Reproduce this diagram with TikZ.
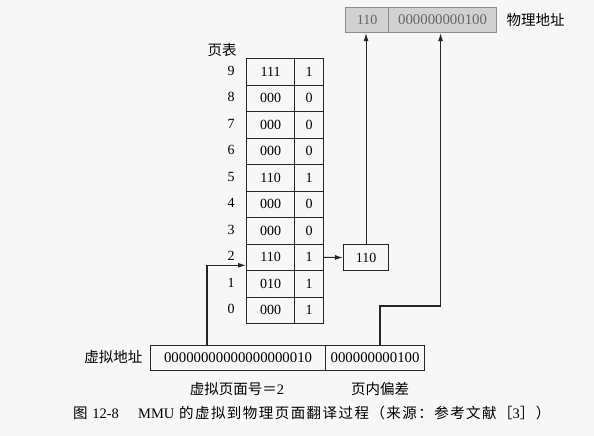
\documentclass[tikz,border=0pt]{standalone}
\usepackage{fontspec}
\setmainfont{Liberation Serif}
\newfontfamily\cjk{Noto Sans CJK SC}
\newfontfamily\cjkcap[LetterSpace=10]{Noto Sans CJK SC}
\usetikzlibrary{arrows.meta}
\begin{document}
\begin{tikzpicture}[x=1pt,y=-1pt,
  cell/.style={draw=black!85, line width=1.1pt, minimum height=26.5pt, inner sep=0pt, anchor=north west, font=\fontsize{14}{14}\selectfont},
  long/.style={font=\fontsize{14.8}{14.8}\selectfont},
  num/.style={font=\fontsize{14}{14}\selectfont},
  lbl/.style={font=\cjk\fontsize{14.5}{14.5}\selectfont},
  arr/.style={-{Latex[length=8pt,width=5pt]}, line width=1.1pt, draw=black!85}]
\fill[black!3] (0,0) rectangle (594,436);
\useasboundingbox (0,0) rectangle (594,436);
% physical address
\node[cell, fill=black!18, draw=black!45, text=black!60, minimum width=43pt, minimum height=25pt] (pa1) at (345,7) {110};
\node[cell, long, fill=black!18, draw=black!45, text=black!60, minimum width=108pt, minimum height=25pt] (pa2) at (388,7) {000000000100};
\node[lbl, anchor=west] (palbl) at (503,20) {物理地址};
% page table
\node[lbl] (pt) at (222,50) {页表};
\foreach \i/\f/\v in {9/111/1,8/000/0,7/000/0,6/000/0,5/110/1,4/000/0,3/000/0,2/110/1,1/010/1,0/000/1} {
  \pgfmathsetmacro\yy{58+(9-\i)*26.5}
  \node[cell, minimum width=48pt] (pf\i) at (246,\yy) {\f};
  \node[cell, minimum width=29pt] (vb\i) at (294,\yy) {\v};
  \node[num] (ix\i) at (231,\yy+12.5) {\i};
}
\node[cell, minimum width=45pt, minimum height=26pt] (pb) at (343,244) {110};
% virtual address
\node[cell, long, minimum width=175pt, minimum height=25pt] (va1) at (150,345) {00000000000000000010};
\node[cell, long, minimum width=99pt, minimum height=25pt] (va2) at (325,345) {000000000100};
\node[lbl, anchor=east] (valbl) at (146,357) {虚拟地址};
\node[lbl] (vpn) at (237,389) {虚拟页面号＝{\rmfamily 2}};
\node[lbl] (off) at (380,389) {页内偏差};
% caption
\node[font=\cjkcap\fontsize{14.5}{14.5}\selectfont, anchor=west, inner sep=0pt] (cap) at (73,413) {图 {\rmfamily 12-8}\quad\ {\rmfamily MMU} 的虚拟到物理页面翻译过程（来源：参考文献［{\rmfamily 3}］）};
% connectors
\draw[arr] (vb2.east) -- (pb.west);
\draw[arr] (pb.north) -- (pb.north |- pa1.south);
\coordinate (vs) at ([xshift=57pt]va1.north west);
\draw[arr] (vs) |- ([yshift=-8pt]pf2.west);
\coordinate (os) at ([xshift=55pt]va2.north west);
\coordinate (ot) at ([xshift=-2pt]pa2.south);
\draw[arr] (os) -- ++(0,-39) -| (ot);
\end{tikzpicture}
\end{document}
